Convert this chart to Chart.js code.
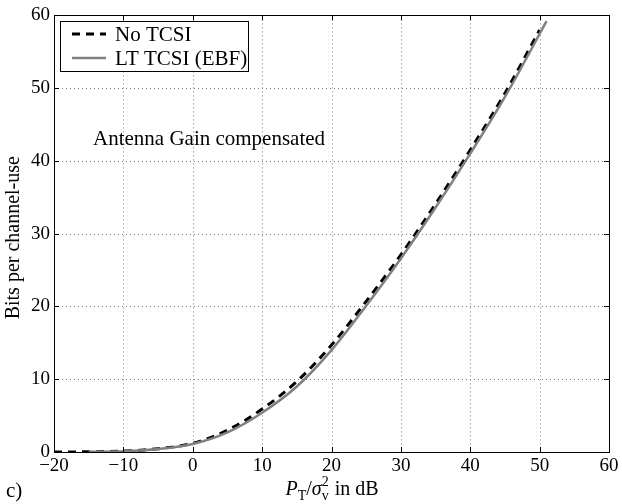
<!DOCTYPE html>
<html>
<head>
<meta charset="utf-8">
<script src="https://cdn.jsdelivr.net/npm/chart.js@4"></script>
<style>
  html, body { margin: 0; padding: 0; background: #fff; }
</style>
</head>
<body>
<canvas id="theChart" width="622" height="504"></canvas>
<script>
// values
const xNoTcsi = [-20, -15, -10, -5, 0, 5, 10, 15, 20, 25, 30, 35, 40, 45, 50];
const yNoTcsi = [0, 0.03, 0.12, 0.45, 1.2, 3.0, 5.9, 9.7, 14.7, 20.7, 27.1, 34.1, 41.5, 49.3, 58.0];
const xLtTcsi = [-15, -10, -5, 0, 5, 10, 15, 20, 25, 30, 35, 40, 45, 51];
const yLtTcsi = [0.02, 0.1, 0.4, 1.1, 2.7, 5.4, 9.0, 14.0, 20.1, 26.6, 33.6, 41.0, 48.8, 59.2];
const seriesLabels = ['No TCSI', 'LT TCSI (EBF)'];
const xTicks = [-20, -10, 0, 10, 20, 30, 40, 50, 60];
const yTicks = [0, 10, 20, 30, 40, 50, 60];

const SERIF = '"Liberation Serif", "DejaVu Serif", serif';

function toPoints(xs, ys) {
  return xs.map((x, i) => ({ x: x, y: ys[i] }));
}

// grid, frame, inward ticks, legend and texts, matlab style
const matlabFrame = {
  id: 'matlabFrame',
  beforeDatasetsDraw(chart) {
    const { ctx, chartArea: a, scales } = chart;
    ctx.save();
    ctx.strokeStyle = '#7a7a7a';
    ctx.lineWidth = 1;
    ctx.setLineDash([1, 3]);
    for (const v of xTicks) {
      const px = Math.round(scales.x.getPixelForValue(v)) + 0.5;
      ctx.beginPath(); ctx.moveTo(px, a.top); ctx.lineTo(px, a.bottom); ctx.stroke();
    }
    for (const v of yTicks) {
      const py = Math.round(scales.y.getPixelForValue(v)) + 0.5;
      ctx.beginPath(); ctx.moveTo(a.left, py); ctx.lineTo(a.right, py); ctx.stroke();
    }
    ctx.restore();
  },
  afterDatasetsDraw(chart) {
    const { ctx, chartArea: a, scales } = chart;
    const ds = chart.data.datasets;
    ctx.save();
    // frame
    ctx.strokeStyle = '#000';
    ctx.lineWidth = 1;
    ctx.setLineDash([]);
    ctx.strokeRect(Math.round(a.left) + 0.5, Math.round(a.top) + 0.5,
      Math.round(a.right - a.left), Math.round(a.bottom - a.top));
    // inward ticks
    const tl = 5;
    ctx.beginPath();
    for (const v of xTicks) {
      const px = Math.round(scales.x.getPixelForValue(v)) + 0.5;
      ctx.moveTo(px, a.bottom); ctx.lineTo(px, a.bottom - tl);
      ctx.moveTo(px, a.top); ctx.lineTo(px, a.top + tl);
    }
    for (const v of yTicks) {
      const py = Math.round(scales.y.getPixelForValue(v)) + 0.5;
      ctx.moveTo(a.left, py); ctx.lineTo(a.left + tl, py);
      ctx.moveTo(a.right, py); ctx.lineTo(a.right - tl, py);
    }
    ctx.stroke();

    // legend box
    ctx.fillStyle = '#fff';
    ctx.fillRect(60, 21, 188, 50);
    ctx.strokeStyle = '#000';
    ctx.strokeRect(60.5, 21.5, 188, 50);
    const rows = [34, 58];
    ds.forEach((d, i) => {
      ctx.strokeStyle = d.borderColor;
      ctx.lineWidth = d.borderWidth;
      ctx.setLineDash(d.borderDash || []);
      ctx.beginPath(); ctx.moveTo(72, rows[i]); ctx.lineTo(106, rows[i]); ctx.stroke();
      ctx.setLineDash([]);
      ctx.fillStyle = '#000';
      ctx.font = '21px ' + SERIF;
      ctx.textBaseline = 'middle';
      ctx.fillText(d.label, 115, rows[i] + 1);
    });

    // annotation
    ctx.textBaseline = 'alphabetic';
    ctx.fillStyle = '#000';
    ctx.font = '21px ' + SERIF;
    ctx.fillText('Antenna Gain compensated', 93, 145);

    // y title
    ctx.save();
    ctx.translate(19, (a.top + a.bottom) / 2 + 4);
    ctx.rotate(-Math.PI / 2);
    ctx.textAlign = 'center';
    ctx.font = '20px ' + SERIF;
    ctx.fillText('Bits per channel-use', 0, 0);
    ctx.restore();

    // x title: P_T / sigma_v^2 in dB
    const parts = [
      { t: 'P', f: 'italic 20px ' + SERIF, dy: 0 },
      { t: 'T', f: '14px ' + SERIF, dy: 5 },
      { t: '/', f: '20px ' + SERIF, dy: 0 },
      { t: 'σ', f: 'italic 20px ' + SERIF, dy: 0 },
      { t: '2', f: '14px ' + SERIF, dy: -9, stack: 'v' },
      { t: ' in dB', f: '20px ' + SERIF, dy: 0 }
    ];
    let total = 0;
    for (const p of parts) { ctx.font = p.f; p.w = ctx.measureText(p.t).width; total += p.w; }
    let x = (a.left + a.right) / 2 - total / 2;
    const base = 495;
    for (const p of parts) {
      ctx.font = p.f;
      ctx.fillText(p.t, x, base + p.dy);
      if (p.stack) ctx.fillText(p.stack, x, base + 5);
      x += p.w + (p.stack ? 1 : 0);
    }

    // panel label
    ctx.font = '21px ' + SERIF;
    ctx.fillText('c)', 6, 497);
    ctx.restore();
  }
};

const data1 = {
  datasets: [
    {
      label: seriesLabels[0],
      data: toPoints(xNoTcsi, yNoTcsi),
      borderColor: '#000000',
      borderWidth: 3,
      borderDash: [8, 6],
      pointRadius: 0,
      cubicInterpolationMode: 'monotone',
      order: 1
    },
    {
      label: seriesLabels[1],
      data: toPoints(xLtTcsi, yLtTcsi),
      borderColor: '#808080',
      borderWidth: 2.5,
      pointRadius: 0,
      cubicInterpolationMode: 'monotone',
      order: 0
    }
  ]
};

const cfg1 = {
  type: 'line',
  data: data1,
  options: {
    responsive: false,
    animation: false,
    layout: { padding: { left: 0, top: 15, right: 13, bottom: 0 } },
    scales: {
      x: {
        type: 'linear',
        min: -20,
        max: 60,
        afterFit: (s) => { s.height = 52; },
        afterBuildTicks: (s) => { s.ticks = xTicks.map(v => ({ value: v })); },
        grid: { display: false, drawTicks: false },
        border: { display: false },
        ticks: {
          padding: 3,
          color: '#000',
          font: { family: SERIF, size: 19 },
          maxRotation: 0,
          callback: (v) => String(v).replace('-', '\u2212')
        }
      },
      y: {
        min: 0,
        max: 60,
        afterFit: (s) => { s.width = 54; },
        afterBuildTicks: (s) => { s.ticks = yTicks.map(v => ({ value: v })); },
        grid: { display: false, drawTicks: false },
        border: { display: false },
        ticks: {
          padding: 4,
          color: '#000',
          font: { family: SERIF, size: 19 }
        }
      }
    },
    plugins: {
      legend: { display: false },
      tooltip: { enabled: false }
    }
  },
  plugins: [matlabFrame]
};

const myChart = new Chart(document.getElementById('theChart').getContext('2d'), cfg1);
</script>
</body>
</html>
